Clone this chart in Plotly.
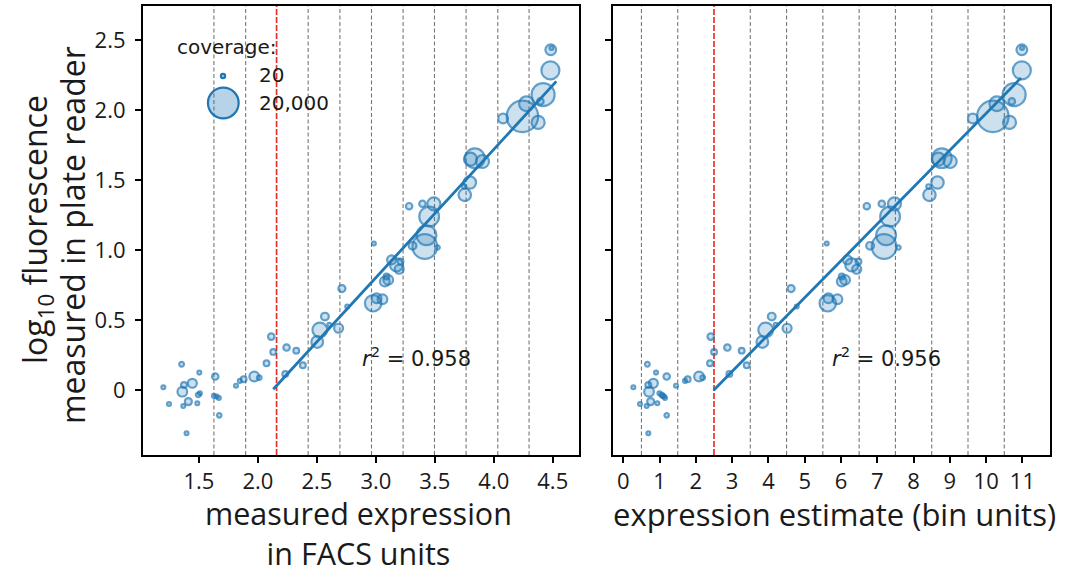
import plotly.graph_objects as go

# ---------------- data ----------------
x_facs = [1.198, 1.246, 1.353, 1.359, 1.373, 1.367, 1.395, 1.410, 1.444, 1.486,
          1.494, 1.503, 1.508, 1.638, 1.627, 1.650, 1.669, 1.672, 1.814, 1.847,
          1.879, 1.969, 2.011, 2.073, 2.113, 2.130, 2.232, 2.243, 2.325, 2.381,
          2.503, 2.525, 2.568, 2.605, 2.684, 2.712, 2.757, 2.977, 3.006, 3.056,
          2.983, 3.076, 3.090, 3.105, 3.133, 3.175, 3.198, 3.209, 3.282, 3.395,
          3.311, 3.415, 3.429, 3.452, 3.492, 3.523, 3.754, 3.749, 3.797, 3.802,
          3.839, 3.904, 4.079, 4.243, 4.277, 4.376, 4.395, 4.418, 4.480, 4.483,
          4.489]
x_bins = [0.277, 0.460, 0.663, 0.709, 0.690, 0.644, 0.690, 0.754, 0.828, 0.938,
          1.058, 0.902, 0.994, 1.196, 1.086, 1.122, 1.150, 1.196, 1.453, 1.701,
          1.775, 2.087, 2.188, 2.390, 2.409, 2.501, 2.923, 2.868, 3.263, 3.401,
          3.833, 3.925, 4.091, 4.201, 4.514, 4.624, 4.780, 5.635, 5.653, 5.901,
          5.607, 6.021, 6.021, 6.113, 6.177, 6.297, 6.434, 6.481, 6.711, 7.124,
          6.802, 7.188, 7.243, 7.353, 7.473, 7.583, 8.438, 8.411, 8.659, 8.686,
          8.778, 9.008, 9.633, 10.185, 10.295, 10.644, 10.708, 10.772, 10.984, 10.984,
          10.990]
log_fluor = [0.021, -0.098, 0.186, -0.010, 0.038, -0.112, -0.307, -0.081, 0.050, -0.093,
             -0.033, 0.126, -0.021, 0.098, -0.040, -0.045, -0.055, -0.179, 0.033, 0.067,
             0.079, 0.098, 0.090, 0.193, 0.383, 0.274, 0.117, 0.305, 0.283, 0.179,
             0.345, 0.431, 0.526, 0.467, 0.443, 0.726, 0.598, 0.621, 0.657, 0.650,
             1.048, 0.776, 0.812, 0.788, 0.931, 0.895, 0.864, 0.919, 1.314, 1.331,
             1.031, 1.026, 1.107, 1.240, 1.331, 1.019, 1.395, 1.455, 1.483, 1.650,
             1.657, 1.633, 1.940, 1.955, 2.045, 1.912, 2.062, 2.110, 2.283, 2.431,
             2.443]
coverage = [15, 15, 30, 350, 60, 15, 15, 115, 270, 15,
            30, 15, 15, 85, 15, 15, 15, 24, 15, 15,
            57, 350, 30, 57, 85, 57, 57, 85, 57, 57,
            675, 1500, 160, 15, 270, 115, 15, 2200, 350, 350,
            15, 350, 57, 350, 270, 975, 270, 57, 85, 85,
            160, 9300, 4200, 4200, 975, 24, 825, 24, 825, 975,
            4200, 975, 350, 21700, 1500, 975, 85, 7200, 3050, 500,
            15]

# fit lines (end points)
fit_facs_x = [2.13, 4.53]
fit_facs_y = [0.007, 2.205]
fit_bins_x = [2.49, 10.96]
fit_bins_y = [0.0, 2.23]
r2_facs = "0.958"
r2_bins = "0.956"

# bin edges (dashed vertical lines); threshold drawn in red
edges_facs = [1.627, 1.896, 2.158, 2.426, 2.695, 2.963, 3.231, 3.497, 3.765, 4.034, 4.299]
thresh_facs = 2.158
edges_bins = [0.5, 1.5, 2.5, 3.5, 4.5, 5.5, 6.5, 7.5, 8.5, 9.5, 10.5]
thresh_bins = 2.5

y_ticks = [0, 0.5, 1.0, 1.5, 2.0, 2.5]
y_ticklabels = ["0", "0.5", "1.0", "1.5", "2.0", "2.5"]
x_facs_ticks = [1.5, 2.0, 2.5, 3.0, 3.5, 4.0, 4.5]
x_facs_ticklabels = ["1.5", "2.0", "2.5", "3.0", "3.5", "4.0", "4.5"]
x_bins_ticks = list(range(0, 12))
x_bins_ticklabels = [str(v) for v in x_bins_ticks]

legend_cov = [20, 20000]
legend_labels = ["20", "20,000"]

# ---------------- styling ----------------
W, H = 1072, 576
BLUE = "#1f77b4"
FILL = "rgba(31,119,180,0.32)"
TICKFONT = dict(family="Open Sans", size=22, color="#1a1a1a")
TITLEFONT = dict(family="Open Sans", size=31, color="#1a1a1a")
YTITLEFONT = dict(family="Open Sans", size=32, color="#1a1a1a")
MPLFONT = dict(family="DejaVu Sans", size=20, color="#1a1a1a")
LW = 2.2


def msize(c):
    return max(31 * (c / 20000) ** 0.28 - 0.3, 3.6)


def px(x):
    return x / W


def py(y):
    return 1 - y / H


sizes = [msize(c) for c in coverage]

fig = go.Figure()

for xs, xa, ya in [(x_facs, "x", "y"), (x_bins, "x2", "y2")]:
    fig.add_trace(go.Scatter(
        x=xs, y=log_fluor, mode="markers", xaxis=xa, yaxis=ya,
        marker=dict(size=sizes, color=FILL, line=dict(color=BLUE, width=LW)),
        showlegend=False, hoverinfo="skip"))

for fx, fy, xa, ya in [(fit_facs_x, fit_facs_y, "x", "y"), (fit_bins_x, fit_bins_y, "x2", "y2")]:
    fig.add_trace(go.Scatter(
        x=fx, y=fy, mode="lines", xaxis=xa, yaxis=ya,
        line=dict(color=BLUE, width=2.8), showlegend=False, hoverinfo="skip"))

shapes = []
for edges, thr, xref, yref in [(edges_facs, thresh_facs, "x", "y domain"),
                               (edges_bins, thresh_bins, "x2", "y2 domain")]:
    for e in edges:
        red = abs(e - thr) < 1e-9
        shapes.append(dict(
            type="line", xref=xref, yref=yref, x0=e, x1=e, y0=0, y1=1,
            layer="below",
            line=dict(color="#e8302a" if red else "#777777",
                      width=1.7 if red else 1.1,
                      dash="6px,2px" if red else "4px,2.5px")))

# legend circles
legend_pos = [(223, 76), (223.3, 103)]
for (cx, cy), c in zip(legend_pos, legend_cov):
    s = msize(c)
    shapes.append(dict(
        type="circle", xref="paper", yref="paper",
        xsizemode="pixel", ysizemode="pixel",
        xanchor=px(cx), yanchor=py(cy),
        x0=-s / 2, x1=s / 2, y0=-s / 2, y1=s / 2,
        fillcolor=FILL, line=dict(color=BLUE, width=LW)))

annotations = [
    dict(text="coverage:", x=px(175), y=py(47), xref="paper", yref="paper",
         xanchor="left", yanchor="middle", showarrow=False, font=MPLFONT),
    dict(text=legend_labels[0], x=px(257), y=py(75), xref="paper", yref="paper",
         xanchor="left", yanchor="middle", showarrow=False, font=MPLFONT),
    dict(text=legend_labels[1], x=px(257), y=py(103), xref="paper", yref="paper",
         xanchor="left", yanchor="middle", showarrow=False, font=MPLFONT),
    dict(text="<i>r</i><sup>2</sup> = " + r2_facs, x=px(360), y=py(357),
         xref="paper", yref="paper", xanchor="left", yanchor="middle",
         showarrow=False, font=dict(family="DejaVu Sans", size=21, color="#1a1a1a")),
    dict(text="<i>r</i><sup>2</sup> = " + r2_bins, x=px(830), y=py(357),
         xref="paper", yref="paper", xanchor="left", yanchor="middle",
         showarrow=False, font=dict(family="DejaVu Sans", size=21, color="#1a1a1a")),
    # y title (two lines)
    dict(text="log<sub>10</sub> fluorescence", x=px(37), y=py(230), xref="paper", yref="paper",
         xanchor="center", yanchor="middle", textangle=-90, showarrow=False, font=YTITLEFONT),
    dict(text="measured in plate reader", x=px(72), y=py(235), xref="paper", yref="paper",
         xanchor="center", yanchor="middle", textangle=-90, showarrow=False, font=YTITLEFONT),
    # x titles
    dict(text="measured expression<br>in FACS units", x=px(358), y=py(533),
         xref="paper", yref="paper", xanchor="center", yanchor="middle",
         showarrow=False, font=dict(family="Open Sans", size=30.5, color="#1a1a1a")),
    dict(text="expression estimate (bin units)", x=px(834), y=py(514), xref="paper", yref="paper",
         xanchor="center", yanchor="middle", showarrow=False, font=TITLEFONT),
]

axis_common = dict(ticks="outside", ticklen=6, tickwidth=1.5, tickcolor="black",
                   showline=True, linecolor="black", linewidth=1.5, mirror=True,
                   showgrid=False, zeroline=False, tickfont=TICKFONT)

x0d, x1d = 142.7, 579.3
x2a, x2b = 612.7, 1050.0
ytop, ybot = 6.0, 455.0

fig.update_layout(
    width=W, height=H, margin=dict(l=0, r=0, t=0, b=0),
    paper_bgcolor="white", plot_bgcolor="white",
    xaxis=dict(domain=[px(x0d), px(x1d)], range=[1.023, 4.725],
               tickvals=x_facs_ticks, ticktext=x_facs_ticklabels,
               anchor="y", ticklabelstandoff=0, **axis_common),
    yaxis=dict(domain=[py(ybot), py(ytop)], range=[-0.462, 2.743],
               tickvals=y_ticks, ticktext=y_ticklabels, anchor="x",
               ticklabelstandoff=5, **axis_common),
    xaxis2=dict(domain=[px(x2a), px(x2b)], range=[-0.292, 11.76],
                tickvals=x_bins_ticks, ticktext=x_bins_ticklabels,
                anchor="y2", ticklabelstandoff=0, **axis_common),
    yaxis2=dict(domain=[py(ybot), py(ytop)], range=[-0.462, 2.743],
                tickvals=y_ticks, showticklabels=False, anchor="x2", **axis_common),
    shapes=shapes, annotations=annotations, showlegend=False,
)

fig.write_html("out.html")
